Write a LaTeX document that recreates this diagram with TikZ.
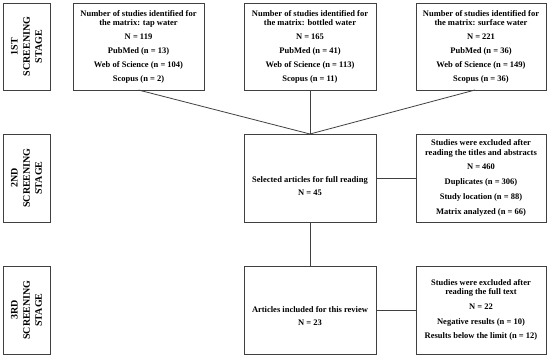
\documentclass[tikz,border=0pt]{standalone}
\usepackage{fontspec}
\setmainfont{Liberation Serif}
\begin{document}
\begin{tikzpicture}[x=1pt,y=-1pt,
  box/.style={draw=black!75, line width=0.8pt, anchor=north west, inner sep=0pt, outer sep=0pt,
    align=center, font=\bfseries\fontsize{8.5}{9.3}\selectfont},
  stagebox/.style={draw=black!75, line width=0.8pt, anchor=north west, inner sep=0pt, outer sep=0pt,
    minimum width=47pt, minimum height=87pt},
  stagetext/.style={rotate=90, align=center, font=\bfseries\fontsize{10}{12.2}\selectfont},
  conn/.style={draw=black!75, line width=0.8pt}]
\useasboundingbox (0,0) rectangle (550,357);
% stage boxes
\node[stagebox] (s1) at (3,3) {};
\node[stagetext] (s1t) at (s1.center) {1ST\\SCREENING\\STAGE};
\node[stagebox, minimum height=88pt] (s2) at (3,134) {};
\node[stagetext] (s2t) at (s2.center) {2ND\\SCREENING\\STAGE};
\node[stagebox, minimum height=88pt] (s3) at (3,266) {};
\node[stagetext] (s3t) at (s3.center) {3RD\\SCREENING\\STAGE};
% top row
\node[box, minimum width=131pt, minimum height=87pt] (a) at (73,3)
  {Number of studies identified for\\the matrix: tap water\\[4.6pt]N = 119\\[4.6pt]PubMed (n = 13)\\[4.6pt]Web of Science (n = 104)\\[4.6pt]Scopus (n = 2)};
\node[box, minimum width=132pt, minimum height=87pt] (b) at (244,3)
  {Number of studies identified for\\the matrix: bottled water\\[4.6pt]N = 165\\[4.6pt]PubMed (n = 41)\\[4.6pt]Web of Science (n = 113)\\[4.6pt]Scopus (n = 11)};
\node[box, minimum width=130pt, minimum height=87pt] (c) at (416,3)
  {Number of studies identified for\\the matrix: surface water\\[4.6pt]N = 221\\[4.6pt]PubMed (n = 36)\\[4.6pt]Web of Science (n = 149)\\[4.6pt]Scopus (n = 36)};
% second row
\node[box, minimum width=132pt, minimum height=88pt] (m2) at (244,134)
  {\rule{0pt}{22pt}Selected articles for full reading\\[4.6pt]N = 45};
\node[box, minimum width=130pt, minimum height=88pt] (r2) at (416,134)
  {Studies were excluded after\\reading the titles and abstracts\\[5.5pt]N = 460\\[5.5pt]Duplicates (n = 306)\\[5.5pt]Study location (n = 88)\\[5.5pt]Matrix analyzed (n = 66)};
% third row
\node[box, minimum width=132pt, minimum height=88pt] (m3) at (244,266)
  {\rule{0pt}{18pt}Articles included for this review\\[4.6pt]N = 23};
\node[box, minimum width=130pt, minimum height=88pt] (r3) at (416,266)
  {Studies were excluded after\\reading the full text\\[5.5pt]N = 22\\[5.5pt]Negative results (n = 10)\\[5.5pt]Results below the limit (n = 12)};
% connectors
\draw[conn] (a.south) -- (m2.north);
\draw[conn] (b.south) -- (m2.north);
\draw[conn] ([xshift=-6pt]c.south) -- (m2.north);
\draw[conn] (m2.south) -- (m3.north);
\draw[conn] (m2.east) -- (r2.west);
\draw[conn] (m3.east) -- (r3.west);
\end{tikzpicture}
\end{document}
